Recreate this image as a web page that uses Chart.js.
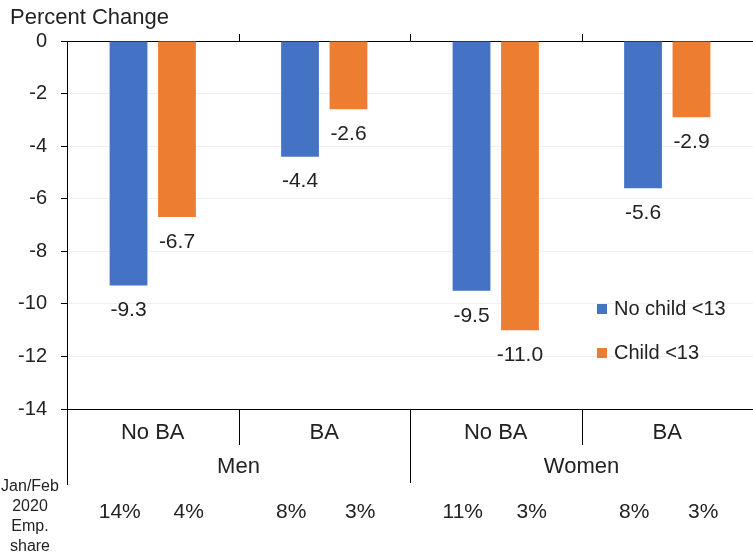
<!DOCTYPE html>
<html>
<head>
<meta charset="utf-8">
<script src="https://cdn.jsdelivr.net/npm/chart.js@4/dist/chart.umd.min.js"></script>
<style>
  html, body { margin: 0; padding: 0; background: #fff; }
  #wrap { width: 753px; height: 560px; position: relative; }
</style>
</head>
<body>
<div id="wrap"><canvas id="grafico" width="753" height="560"></canvas></div>
<script>
// datos
const categorias = ['No BA', 'BA', 'No BA', 'BA'];
const grupos = ['Men', 'Women'];
const sinHijo = [-9.3, -4.4, -9.5, -5.6];
const conHijo = [-6.7, -2.6, -11.0, -2.9];
const shareSinHijo = ['14%', '8%', '11%', '8%'];
const shareConHijo = ['4%', '3%', '3%', '3%'];
const series = ['No child <13', 'Child <13'];
const colores = ['#4472C4', '#ED7D31'];

const FUENTE = '"Liberation Sans", Arial, sans-serif';

// dibuja etiquetas, leyenda y niveles de categoria
const extras = {
    id: 'extras',
    afterDraw(chart) {
        const c = chart.ctx;
        const area = chart.chartArea;
        const x = chart.scales.x;
        c.save();

        // titulo eje y
        c.fillStyle = '#222';
        c.font = '22px ' + FUENTE;
        c.textAlign = 'left';
        c.textBaseline = 'middle';
        c.fillText('Percent Change', 10, 18);

        // etiquetas de datos
        c.font = '21px ' + FUENTE;
        c.textAlign = 'center';
        chart.data.datasets.forEach((ds, di) => {
            chart.getDatasetMeta(di).data.forEach((bar, i) => {
                c.fillText(ds.data[i].toFixed(1), bar.x, bar.y + 25);
            });
        });

        // centros y limites de categorias
        const centros = categorias.map((_, i) => x.getPixelForValue(i));
        const limites = [area.left];
        for (let i = 0; i < centros.length - 1; i++) limites.push((centros[i] + centros[i + 1]) / 2);
        limites.push(area.right);

        c.strokeStyle = '#000';
        c.lineWidth = 1;
        // separadores
        for (let i = 1; i < limites.length - 1; i++) {
            const lx = Math.round(limites[i]) + 0.5;
            const largo = (i === 2) ? 74 : 36;
            c.beginPath();
            c.moveTo(lx, area.bottom);
            c.lineTo(lx, area.bottom + largo);
            c.moveTo(lx, area.top);
            c.lineTo(lx, area.top - 7);
            c.stroke();
        }
        // eje y extendido hacia abajo
        const ax = Math.round(area.left) + 0.5;
        c.beginPath();
        c.moveTo(ax, area.bottom);
        c.lineTo(ax, area.bottom + 76);
        c.stroke();

        // nivel 1
        c.fillStyle = '#222';
        c.font = '22px ' + FUENTE;
        c.textBaseline = 'middle';
        centros.forEach((cx, i) => c.fillText(categorias[i], cx, area.bottom + 24));
        // nivel 2
        grupos.forEach((g, gi) => {
            c.fillText(g, limites[gi * 2 + 1], area.bottom + 58);
        });

        // participacion en empleo
        c.font = '21px ' + FUENTE;
        centros.forEach((cx, i) => {
            c.fillText(shareSinHijo[i], cx - 33, area.bottom + 103);
            c.fillText(shareConHijo[i], cx + 36, area.bottom + 103);
        });
        c.font = '16px ' + FUENTE;
        ['Jan/Feb', '2020', 'Emp.', 'share'].forEach((t, i) => {
            c.fillText(t, 30, area.bottom + 78 + i * 20);
        });

        // leyenda
        c.textAlign = 'left';
        c.font = '20px ' + FUENTE;
        series.forEach((s, i) => {
            const ly = 309 + i * 44;
            c.fillStyle = colores[i];
            c.fillRect(597, ly - 5, 10, 10);
            c.fillStyle = '#222';
            c.fillText(s, 614, ly);
        });
        c.restore();
    }
};

const ctx = document.getElementById('grafico').getContext('2d');
new Chart(ctx, {
    type: 'bar',
    data: {
        labels: categorias,
        datasets: [
            { label: series[0], data: sinHijo, backgroundColor: colores[0] },
            { label: series[1], data: conHijo, backgroundColor: colores[1] }
        ]
    },
    options: {
        responsive: false,
        animation: false,
        categoryPercentage: 0.565,
        barPercentage: 0.78,
        layout: { padding: { top: 41, bottom: 151, left: 0, right: 0 } },
        plugins: { legend: { display: false }, tooltip: { enabled: false } },
        scales: {
            x: { display: false },
            y: {
                min: -14,
                max: 0,
                ticks: {
                    stepSize: 2,
                    color: '#222',
                    padding: 14,
                    font: { size: 20, family: FUENTE }
                },
                grid: {
                    color: (c) => (c.tick && (c.tick.value === 0 || c.tick.value === -14)) ? '#000' : '#efefef',
                    tickColor: '#000',
                    tickLength: 6
                },
                border: { color: '#000', width: 1 },
                afterFit: (scale) => { scale.width = 67; }
            }
        }
    },
    plugins: [extras]
});
</script>
</body>
</html>
